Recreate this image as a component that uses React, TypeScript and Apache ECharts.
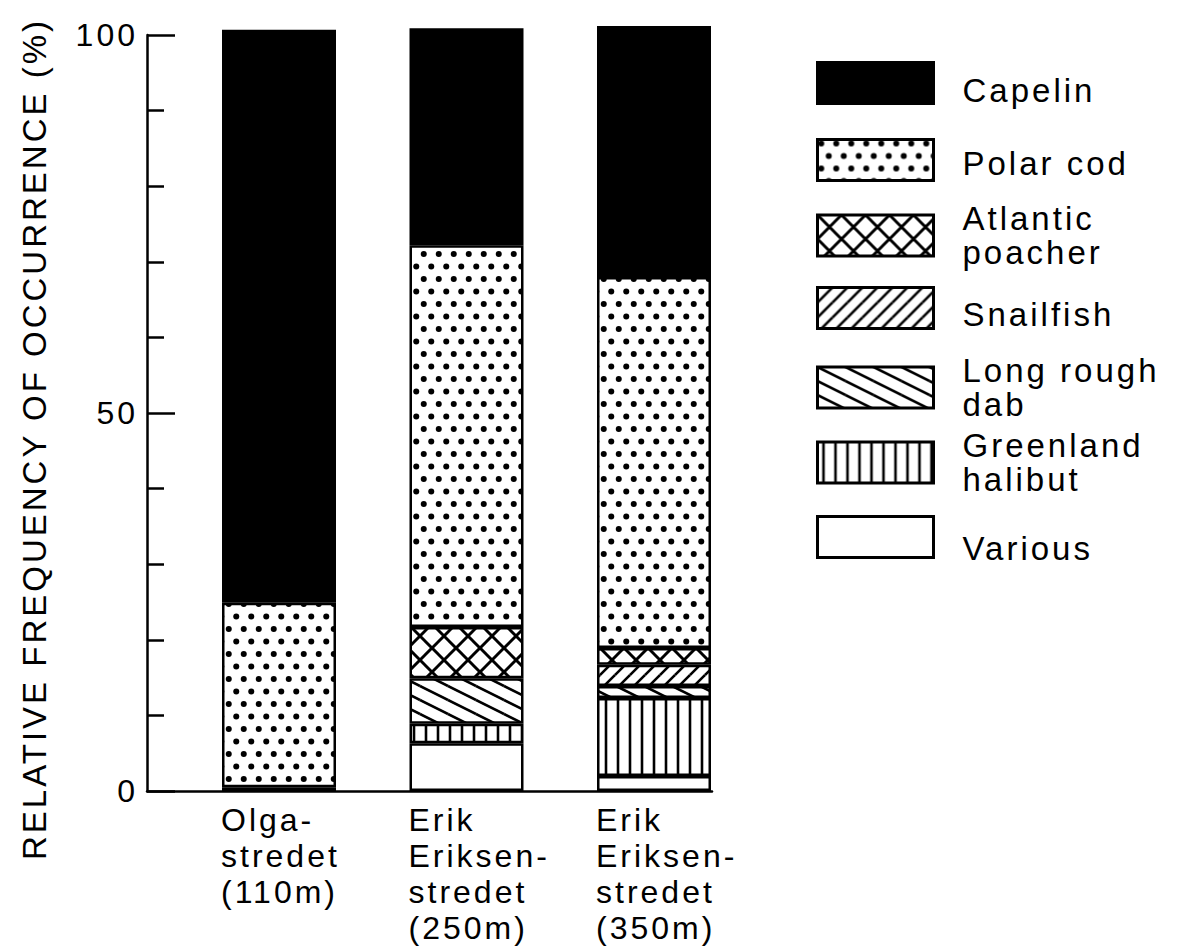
import React, { useEffect, useRef } from 'react';
import * as echarts from 'echarts';

// ---- data (stacked from bottom to top) ----
const categories = [
  'Olga-\nstredet\n(110m)',
  'Erik\nEriksen-\nstredet\n(250m)',
  'Erik\nEriksen-\nstredet\n(350m)',
];
const various = [0.5, 6.3, 2.0];
const greenlandHalibut = [null, 2.6, 10.3];
const longRoughDab = [null, 6.0, 1.6];
const snailfish = [null, null, 2.8];
const atlanticPoacher = [null, 6.8, 2.2];
const polarCod = [24.4, 50.5, 49.1];
const capelin = [75.8, 28.7, 33.2];

const yAxisTitle = 'RELATIVE FREQUENCY OF OCCURRENCE (%)';
const legendOrder = ['Capelin', 'Polar cod', 'Atlantic poacher', 'Snailfish', 'Long rough dab', 'Greenland halibut', 'Various'];
const legendLabels: Record<string, string> = {
  'Capelin': 'Capelin',
  'Polar cod': 'Polar cod',
  'Atlantic poacher': 'Atlantic\npoacher',
  'Snailfish': 'Snailfish',
  'Long rough dab': 'Long rough\ndab',
  'Greenland halibut': 'Greenland\nhalibut',
  'Various': 'Various',
};

const FONT = '"Liberation Sans", Arial, Helvetica, sans-serif';

type Draw = (ctx: CanvasRenderingContext2D, w: number, h: number) => void;

function makePattern(w: number, h: number, draw: Draw) {
  const c = document.createElement('canvas');
  c.width = w;
  c.height = h;
  const ctx = c.getContext('2d')!;
  ctx.fillStyle = '#fff';
  ctx.fillRect(0, 0, w, h);
  ctx.fillStyle = '#000';
  ctx.strokeStyle = '#000';
  draw(ctx, w, h);
  return { image: c, repeat: 'repeat' };
}

function wrapLines(ctx: CanvasRenderingContext2D, w: number, h: number, segs: number[][], lw: number) {
  ctx.lineWidth = lw;
  ctx.lineCap = 'butt';
  for (const [x1, y1, x2, y2] of segs) {
    for (let dx = -1; dx <= 1; dx++) {
      for (let dy = -1; dy <= 1; dy++) {
        ctx.beginPath();
        ctx.moveTo(x1 + dx * w, y1 + dy * h);
        ctx.lineTo(x2 + dx * w, y2 + dy * h);
        ctx.stroke();
      }
    }
  }
}

function buildPatterns() {
  const dots = makePattern(15, 25, (ctx, w, h) => {
    const pts = [[3.75, 4], [11.25, 16.5]];
    for (const [x, y] of pts) {
      for (let dx = -1; dx <= 1; dx++) {
        for (let dy = -1; dy <= 1; dy++) {
          ctx.beginPath();
          ctx.arc(x + dx * w, y + dy * h, 3, 0, Math.PI * 2);
          ctx.fill();
        }
      }
    }
  });
  const cross = makePattern(24, 24, (ctx, w, h) => {
    wrapLines(ctx, w, h, [[0, 0, w, h], [0, h, w, 0]], 3);
  });
  const forward = makePattern(15, 15, (ctx, w, h) => {
    wrapLines(ctx, w, h, [[0, h, w, 0]], 2.6);
  });
  const backward = makePattern(28, 14, (ctx, w, h) => {
    wrapLines(ctx, w, h, [[0, 0, w, h]], 2.6);
  });
  const vertical = makePattern(12, 10, (ctx, w, h) => {
    wrapLines(ctx, w, h, [[6, 0, 6, h]], 2.6);
  });
  return { dots, cross, forward, backward, vertical };
}

export default function App() {
  const ref = useRef<HTMLDivElement>(null);

  useEffect(() => {
    if (!ref.current) return;
    const chart = echarts.init(ref.current, null, { renderer: 'svg' });
    const p = buildPatterns();

    const seriesDefs = [
      { name: 'Various', data: various, color: '#ffffff' as any },
      { name: 'Greenland halibut', data: greenlandHalibut, color: p.vertical },
      { name: 'Long rough dab', data: longRoughDab, color: p.backward },
      { name: 'Snailfish', data: snailfish, color: p.forward },
      { name: 'Atlantic poacher', data: atlanticPoacher, color: p.cross },
      { name: 'Polar cod', data: polarCod, color: p.dots },
      { name: 'Capelin', data: capelin, color: '#000000' },
    ];

    // legend layout: icon tops and downward text shifts (single-line labels)
    const iconTops = [63, 138, 215, 288, 367, 442, 517];
    const textShift = [7, 3, 0, 6, 0, 0, 11];
    const ICON_H = 41;
    const LINE_H = 34;

    const option: any = {
      animation: false,
      textStyle: { fontFamily: FONT },
      grid: [
        { left: 147, top: 35, width: 565, height: 756 },
        { left: 185.25, top: 35, width: 562.5, height: 756 },
        { left: 127.25, top: 35, width: 562.5, height: 756 },
      ],
      xAxis: [
        {
          gridIndex: 0, type: 'category', data: categories.map(() => ''),
          axisLine: { show: true, lineStyle: { color: '#000', width: 2.5 } },
          axisTick: { show: false }, axisLabel: { show: false },
        },
        { gridIndex: 1, type: 'category', data: categories, show: false },
        {
          gridIndex: 2, type: 'category', data: categories,
          axisLine: { show: false }, axisTick: { show: false },
          axisLabel: {
            color: '#000', fontSize: 32, lineHeight: 36, align: 'left',
            margin: 11, interval: 0, fontFamily: FONT,
          },
        },
      ],
      yAxis: [
        {
          gridIndex: 0, type: 'value', min: 0, max: 100, interval: 50,
          axisLine: { show: true, lineStyle: { color: '#000', width: 2.5 } },
          axisTick: { show: true, inside: true, length: 28, lineStyle: { color: '#000', width: 2.5 } },
          minorTick: { show: true, splitNumber: 5, length: 17, lineStyle: { color: '#000', width: 2.5 } },
          splitLine: { show: false },
          minorSplitLine: { show: false },
          axisLabel: { color: '#000', fontSize: 32, margin: 9, fontFamily: FONT },
        },
        { gridIndex: 1, type: 'value', min: 0, max: 100, show: false },
        { gridIndex: 2, type: 'value', min: 0, max: 100, show: false },
      ],
      legend: legendOrder.map((name, i) => {
        const label = legendLabels[name];
        const nLines = label.split('\n').length;
        const s = textShift[i];
        const base = { fontSize: 33, lineHeight: LINE_H, color: '#000', fontFamily: FONT };
        let text = label;
        let rich: any = undefined;
        let textH = nLines * LINE_H;
        if (nLines === 1 && s !== 0) {
          rich = { f: { ...base, padding: [2 * s, 0, 0, 0] } };
          text = `{f|${label}}`;
          textH = LINE_H + 2 * s;
        }
        const itemH = Math.max(ICON_H, textH);
        return {
          data: [name],
          orient: 'vertical',
          left: 816,
          top: iconTops[i] - (itemH - ICON_H) / 2,
          padding: 0,
          itemWidth: 116,
          itemHeight: ICON_H,
          icon: 'rect',
          selectedMode: false,
          formatter: () => text,
          itemStyle: { borderColor: '#000', borderWidth: 3 },
          textStyle: {
            ...base,
            padding: [0, 0, 0, 24],
            rich,
          },
        };
      }),
      graphic: [
        {
          type: 'text',
          x: 34,
          y: 439,
          rotation: Math.PI / 2,
          style: {
            text: yAxisTitle,
            fontSize: 33,
            fontFamily: FONT,
            fill: '#000',
            align: 'center',
            verticalAlign: 'middle',
          },
        },
      ],
      series: seriesDefs.map((s) => ({
        name: s.name,
        type: 'bar',
        stack: 'total',
        xAxisIndex: 1,
        yAxisIndex: 1,
        barWidth: 114,
        clip: false,
        data: s.data,
        itemStyle: { color: s.color, borderColor: '#000', borderWidth: 2.5 },
        emphasis: { disabled: true },
      })),
    };

    chart.setOption(option);
    return () => chart.dispose();
  }, []);

  return (
    <>
      <style>{`#fishchart text { letter-spacing: 3px; }`}</style>
      <div
        id="fishchart"
        ref={ref}
        style={{ position: 'absolute', left: 0, top: 0, width: 1183, height: 950, background: '#fff' }}
      />
    </>
  );
}
